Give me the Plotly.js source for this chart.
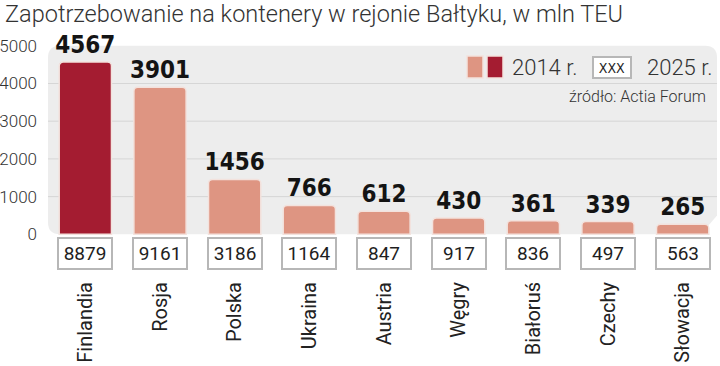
<!DOCTYPE html>
<html>
<head>
<meta charset="utf-8">
<script src="https://cdn.plot.ly/plotly-3.0.1.min.js"></script>
<style>
html,body{margin:0;padding:0;background:#fff;}
#chart{width:720px;height:366px;}
</style>
</head>
<body>
<div id="chart"></div>
<script>
var countries = ["Finlandia","Rosja","Polska","Ukraina","Austria","Węgry","Białoruś","Czechy","Słowacja"];
var values2014 = [4567,3901,1456,766,612,430,361,339,265];
var values2025 = [8879,9161,3186,1164,847,917,836,497,563];
var yTicks = [0,1000,2000,3000,4000,5000];
var gridVals = [1000,2000,3000,4000];

var DARK = "#a41c31", SALMON = "#de9582";
var barColors = values2014.map(function(v,i){ return i===0 ? DARK : SALMON; });
var COND = "DejaVu Sans Condensed, Roboto, sans-serif";

var W = 720, H = 366, ML = 48, MR = 0, MT = 30, MB = 94;
var PW = W-ML-MR, PH = H-MT-MB;
function px(x){ return (x-ML)/PW; }
function py(y){ return (H-MB-y)/PH; }

var trace = {
  type: "bar",
  x: countries,
  y: values2014,
  marker: {color: barColors, cornerradius: 4, line: {color: "#f3e2dd", width: 1.5}},
  texttemplate: "%{y}",
  textposition: "outside",
  constraintext: "none",
  cliponaxis: false,
  textfont: {family: COND, size: 24, weight: "bold", color: "#141414"},
  hoverinfo: "skip"
};

var shapes = [];
var rx = 12/PW, ry = 12*(6419/PH);
var xr = 669/PW;
shapes.push({
  type: "path", xref: "paper", yref: "y", layer: "below",
  path: "M 0," + (5000-ry) + " Q 0,5000 " + rx + ",5000 L " + (xr-rx) + ",5000 Q " + xr + ",5000 " + xr + "," + (5000-ry) +
        " L " + xr + ",500 L " + (xr-16/PW) + ",0 L " + rx + ",0 Q 0,0 0," + ry + " Z",
  fillcolor: "#ededed", line: {width: 0}
});
gridVals.forEach(function(v){
  shapes.push({type:"line", xref:"paper", yref:"y", layer:"below", x0:0, x1:xr, y0:v, y1:v,
    line:{color:"#d6d6d6", width:1}});
});
shapes.push({type:"rect", xref:"paper", yref:"paper", x0:px(467), x1:px(483), y0:py(78), y1:py(56),
  fillcolor:SALMON, line:{color:"#f3e2dd", width:1.5}});
shapes.push({type:"rect", xref:"paper", yref:"paper", x0:px(487), x1:px(503), y0:py(78), y1:py(56),
  fillcolor:DARK, line:{color:"#f3e2dd", width:1.5}});

var annotations = [];
countries.forEach(function(c,i){
  annotations.push({
    x: c, y: -509, xref: "x", yref: "y", text: String(values2025[i]), showarrow: false,
    width: 52, height: 29, bgcolor: "#ffffff", bordercolor: "#b7b7b7", borderwidth: 2, borderpad: 0,
    font: {family: "Roboto", size: 19, color: "#1e1e1e"}
  });
});
annotations.push({xref:"paper", yref:"paper", x:px(510), y:py(67), xanchor:"left", yanchor:"middle",
  text:"2014 r.", showarrow:false, font:{family:"Roboto", size:22, weight:300, color:"#333"}});
annotations.push({xref:"paper", yref:"paper", x:px(612), y:py(67), xanchor:"center", yanchor:"middle",
  text:"XXX", showarrow:false, width:36, height:19, bgcolor:"#fff", bordercolor:"#b7b7b7", borderwidth:2, borderpad:0,
  font:{family:COND, size:14, color:"#1e1e1e"}});
annotations.push({xref:"paper", yref:"paper", x:px(645), y:py(67), xanchor:"left", yanchor:"middle",
  text:"2025 r.", showarrow:false, font:{family:"Roboto", size:22, weight:300, color:"#333"}});
annotations.push({xref:"paper", yref:"paper", x:px(708), y:py(96), xanchor:"right", yanchor:"middle",
  text:"źródło: Actia Forum", showarrow:false, font:{family:"Roboto", size:16, weight:300, color:"#333"}});

var layout = {
  width: W, height: H,
  margin: {l: ML, r: MR, t: MT, b: MB, pad: 0},
  paper_bgcolor: "#ffffff", plot_bgcolor: "rgba(0,0,0,0)",
  showlegend: false,
  bargap: 0.30,
  title: {text: "Zapotrzebowanie na kontenery w rejonie Bałtyku, w mln TEU", x: 5/W, xanchor: "left", xref: "container",
    y: 1-14/H, yanchor: "middle", yref: "container",
    font: {family: "Roboto", size: 23.5, weight: 300, color: "#333"}},
  xaxis: {type: "category", showgrid: false, showline: false, zeroline: false, ticks: "",
    tickangle: -90, tickfont: {family: "Roboto", size: 20, color: "#222"}, ticklabelstandoff: 5},
  yaxis: {range: [-1000, 5419], tickvals: yTicks, ticktext: yTicks.map(String), showgrid: false, zeroline: false,
    showline: false, ticks: "", ticklabelstandoff: 10, tickfont: {family: "Roboto", size: 17, weight: 300, color: "#333"}},
  shapes: shapes,
  annotations: annotations
};

Plotly.newPlot("chart", [trace], layout, {staticPlot: true, displayModeBar: false});
</script>
</body>
</html>
